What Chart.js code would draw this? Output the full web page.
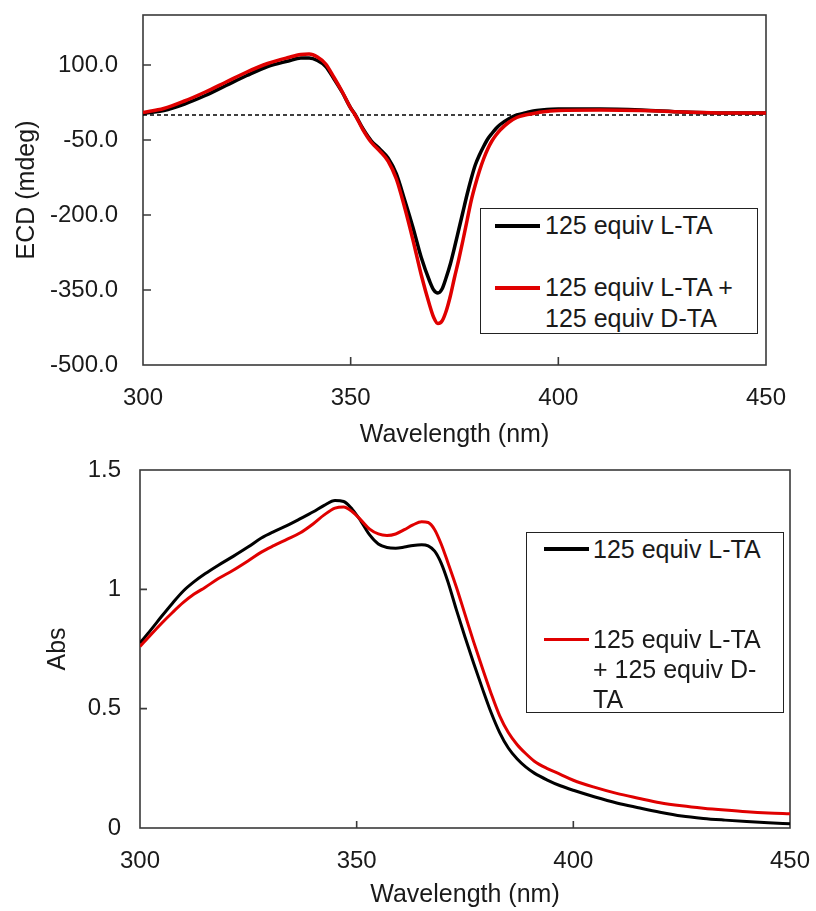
<!DOCTYPE html>
<html>
<head>
<meta charset="utf-8">
<script src="https://cdn.jsdelivr.net/npm/chart.js@4/dist/chart.umd.min.js"></script>
<style>
  html, body { margin: 0; padding: 0; background: #fff; }
  body { width: 816px; height: 911px; position: relative; overflow: hidden; font-family: "Liberation Sans", Arial, sans-serif; color: #1a1a1a; }
  .wrap { position: absolute; left: 0; width: 816px; }
  .leg { position: absolute; border: 1px solid #222; background: #fff; box-sizing: border-box; }
  .smp { position: absolute; height: 0; }
  .txt { position: absolute; font-size: 25px; white-space: nowrap; color: #1a1a1a; }
</style>
</head>
<body>
<div class="wrap" style="top:0;height:450px"><canvas id="c1" width="816" height="450"></canvas></div>
<div class="wrap" style="top:450px;height:461px"><canvas id="c2" width="816" height="461"></canvas></div>

<div class="leg" style="left:480px;top:208px;width:278px;height:126px">
  <div class="smp" style="left:14px;top:15px;width:45px;border-top:4px solid #000"></div>
  <div class="txt" style="left:64px;top:1px;line-height:31px">125 equiv L-TA</div>
  <div class="smp" style="left:14px;top:77px;width:45px;border-top:4px solid #e00000"></div>
  <div class="txt" style="left:64px;top:63px;line-height:31px">125 equiv L-TA +<br>125 equiv D-TA</div>
</div>

<div class="leg" style="left:526px;top:532px;width:258px;height:181px">
  <div class="smp" style="left:17px;top:14px;width:45px;border-top:4px solid #000"></div>
  <div class="txt" style="left:66px;top:1px;line-height:30px">125 equiv L-TA</div>
  <div class="smp" style="left:17px;top:105px;width:45px;border-top:3px solid #e00000"></div>
  <div class="txt" style="left:66px;top:91px;line-height:30px">125 equiv L-TA<br>+ 125 equiv D-<br>TA</div>
</div>

<script>
// ---------- Data ----------
const wlTop = [300,305,310,315,320,325,330,335,338,340,342,344,346,348,350,351,353,355,357,359,361,363,365,367,369,370,371,372,373,374,375,376,377,378,379,380,381,382,383,384,385,386,388,390,392,394,396,400,410,420,430,440,450];
const ecdL  = [3,9,22,39,59,79,97,108,114,114,109,97,72,45,14,2,-28,-52,-68,-86,-118,-170,-225,-285,-332,-350,-356,-348,-325,-298,-265,-230,-195,-160,-128,-100,-80,-63,-48,-37,-27,-19,-8,0,4,8,10,12,12,10,6,4,4];
const ecdLD = [5,13,28,46,66,86,103,115,121,122,116,102,75,46,14,1,-30,-55,-72,-92,-128,-185,-250,-320,-380,-405,-417,-412,-392,-362,-325,-290,-252,-212,-172,-140,-112,-88,-68,-52,-40,-30,-15,-5,0,3,6,9,10,9,6,4,4];
const zeroLineX = [300,450];
const zeroLineY = [0,0];
const yTicksTop = [-500,-350,-200,-50,100];

const wlBot = [300,302.5,305,307.5,310,312.5,315,318,321.5,325,328,331,334,337,340,342.5,345,347,349,351,353,355,357,359,361,363,365,366.5,368,369.5,371,373,375,377,379,381,383,385,387,389,391,394,397,400,405,410,415,420,425,430,435,440,445,450];
const absL  = [0.775,0.83,0.887,0.942,0.993,1.032,1.065,1.10,1.138,1.178,1.215,1.243,1.268,1.296,1.325,1.352,1.372,1.368,1.335,1.285,1.228,1.19,1.175,1.172,1.177,1.184,1.187,1.182,1.16,1.11,1.035,0.915,0.80,0.69,0.585,0.485,0.40,0.335,0.29,0.256,0.23,0.201,0.177,0.158,0.13,0.105,0.085,0.066,0.05,0.04,0.033,0.027,0.022,0.018];
const absLD = [0.76,0.81,0.858,0.903,0.945,0.98,1.008,1.044,1.08,1.12,1.156,1.184,1.21,1.237,1.275,1.312,1.34,1.345,1.325,1.29,1.252,1.232,1.226,1.232,1.25,1.27,1.283,1.28,1.25,1.19,1.115,1.01,0.895,0.78,0.67,0.565,0.47,0.40,0.35,0.312,0.28,0.249,0.225,0.2,0.17,0.145,0.125,0.106,0.093,0.083,0.075,0.068,0.063,0.06];

const seriesNames = ['125 equiv L-TA', '125 equiv L-TA + 125 equiv D-TA'];

// ---------- Helpers ----------
const pts = (xs, ys) => xs.map((x, i) => ({x, y: ys[i]}));
const FONT = '"Liberation Sans", Arial, sans-serif';
const TXT = '#1a1a1a';

const framePlugin = {
  id: 'frame',
  beforeDatasetsDraw(chart, args, opts) {
    const {ctx, chartArea: a, scales} = chart;
    ctx.save();
    ctx.strokeStyle = '#3a3a3a';
    ctx.lineWidth = 1.6;
    ctx.strokeRect(a.left, a.top, a.right - a.left, a.bottom - a.top);
    ctx.beginPath();
    scales.x.ticks.forEach(t => {
      const px = scales.x.getPixelForValue(t.value);
      if (px > a.left + 1 && px < a.right - 1) { ctx.moveTo(px, a.bottom); ctx.lineTo(px, a.bottom - opts.len); }
    });
    scales.y.ticks.forEach(t => {
      const py = scales.y.getPixelForValue(t.value);
      if (py > a.top + 1 && py < a.bottom - 1) { ctx.moveTo(a.left, py); ctx.lineTo(a.left + opts.len, py); }
    });
    ctx.stroke();
    ctx.restore();
  }
};

function xScale(height, pad) {
  return {
    type: 'linear', min: 300, max: 450,
    afterFit: s => { s.height = height; s.paddingLeft = 0; s.paddingRight = 0; },
    grid: { display: false, drawTicks: false },
    border: { display: false },
    ticks: { stepSize: 50, padding: 19, color: TXT, font: { family: FONT, size: 24 }, maxRotation: 0, callback: v => String(v) },
    title: { display: true, text: 'Wavelength (nm)', color: TXT, font: { family: FONT, size: 25 }, padding: { top: 0, bottom: pad } }
  };
}

// ---------- Top chart (ECD) ----------
new Chart(document.getElementById('c1'), {
  type: 'line',
  data: {
    datasets: [
      { label: seriesNames[1], data: pts(wlTop, ecdLD), borderColor: '#e00000', borderWidth: 3.5, pointRadius: 0, cubicInterpolationMode: 'monotone', order: 0 },
      { label: seriesNames[0], data: pts(wlTop, ecdL), borderColor: '#000000', borderWidth: 3.5, pointRadius: 0, cubicInterpolationMode: 'monotone', order: 1 },
      { label: 'zero', data: pts(zeroLineX, zeroLineY), borderColor: '#000000', borderWidth: 1.6, borderDash: [4, 3], pointRadius: 0, order: 2 }
    ]
  },
  options: {
    responsive: false, animation: false,
    layout: { padding: { left: 0, top: 15, right: 50, bottom: 0 } },
    plugins: { legend: { display: false }, tooltip: { enabled: false }, frame: { len: 8 } },
    scales: {
      x: xScale(85, 0),
      y: {
        type: 'linear', min: -500, max: 200,
        afterFit: s => { s.width = 143; s.paddingTop = 0; s.paddingBottom = 0; },
        afterBuildTicks: s => { s.ticks = yTicksTop.map(v => ({ value: v })); },
        grid: { display: false, drawTicks: false },
        border: { display: false },
        ticks: { padding: 25, color: TXT, font: { family: FONT, size: 24 }, callback: v => Number(v).toFixed(1) },
        title: { display: true, text: 'ECD (mdeg)', color: TXT, font: { family: FONT, size: 25 }, padding: { top: 12, bottom: 0 } }
      }
    }
  },
  plugins: [framePlugin]
});

// ---------- Bottom chart (Abs) ----------
new Chart(document.getElementById('c2'), {
  type: 'line',
  data: {
    datasets: [
      { label: seriesNames[1], data: pts(wlBot, absLD), borderColor: '#e00000', borderWidth: 3, pointRadius: 0, cubicInterpolationMode: 'monotone', order: 0 },
      { label: seriesNames[0], data: pts(wlBot, absL), borderColor: '#000000', borderWidth: 3, pointRadius: 0, cubicInterpolationMode: 'monotone', order: 1 }
    ]
  },
  options: {
    responsive: false, animation: false,
    layout: { padding: { left: 0, top: 20, right: 26, bottom: 0 } },
    plugins: { legend: { display: false }, tooltip: { enabled: false }, frame: { len: 7 } },
    scales: {
      x: xScale(83, 1),
      y: {
        type: 'linear', min: 0, max: 1.5,
        afterFit: s => { s.width = 140; s.paddingTop = 0; s.paddingBottom = 0; },
        grid: { display: false, drawTicks: false },
        border: { display: false },
        ticks: { stepSize: 0.5, padding: 19, color: TXT, font: { family: FONT, size: 24 }, callback: v => String(v) },
        title: { display: true, text: 'Abs', color: TXT, font: { family: FONT, size: 25 }, padding: { top: 43, bottom: 0 } }
      }
    }
  },
  plugins: [framePlugin]
});
</script>
</body>
</html>
